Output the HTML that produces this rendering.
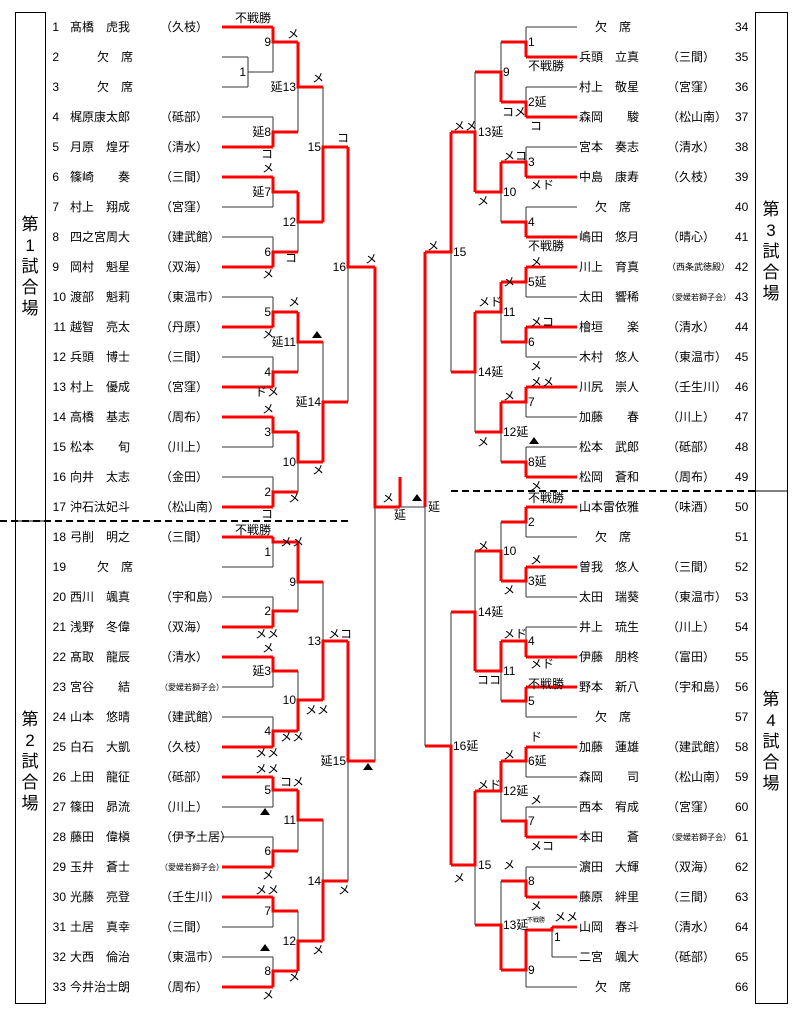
<!DOCTYPE html>
<html><head><meta charset="utf-8"><style>
html,body{margin:0;padding:0;background:#fff}
svg{display:block}
text{font-family:"Liberation Sans","Noto Sans CJK JP",sans-serif;font-size:12px;fill:#000}
.k{stroke:#333;stroke-width:1;fill:none}
.r{stroke:#ff0000;stroke-width:3;fill:none}
.s{font-size:8px}
.t{font-size:9px}
.b{font-size:17px}
.e{text-anchor:end}
</style></head><body>
<svg width="800" height="1014" viewBox="0 0 800 1014" xmlns="http://www.w3.org/2000/svg">
<!-- boxes -->
<rect x="15.5" y="12.5" width="30" height="991" fill="none" stroke="#000"/>
<line x1="15" y1="521" x2="46" y2="521" stroke="#000"/>
<rect x="755.5" y="12.5" width="32" height="991" fill="none" stroke="#000"/>
<line x1="755" y1="491" x2="788" y2="491" stroke="#000"/>
<g class="b" text-anchor="middle">
<text x="30" y="230" class="b">第</text><text x="30" y="251" class="b">1</text><text x="30" y="272" class="b">試</text><text x="30" y="293" class="b">合</text><text x="30" y="314" class="b">場</text>
<text x="30" y="725" class="b">第</text><text x="30" y="746" class="b">2</text><text x="30" y="767" class="b">試</text><text x="30" y="788" class="b">合</text><text x="30" y="809" class="b">場</text>
<text x="771" y="215" class="b">第</text><text x="771" y="236" class="b">3</text><text x="771" y="257" class="b">試</text><text x="771" y="278" class="b">合</text><text x="771" y="299" class="b">場</text>
<text x="771" y="705" class="b">第</text><text x="771" y="726" class="b">4</text><text x="771" y="747" class="b">試</text><text x="771" y="768" class="b">合</text><text x="771" y="789" class="b">場</text>
</g>
<!-- dashed -->
<line x1="0" y1="521" x2="348" y2="521" stroke="#000" stroke-width="2" stroke-dasharray="7,4"/>
<line x1="451" y1="491" x2="755" y2="491" stroke="#000" stroke-width="2" stroke-dasharray="7,4"/>

<!-- left player lines -->
<g class="k">
<path d="M222 57H248M222 87H248M222 117H273M222 177H273M222 207H273M222 237H273M222 297H273M222 357H273M222 417H273M222 447H273M222 477H273M222 567H273M222 597H273M222 687H273M222 717H273M222 807H273M222 837H273M222 927H273M222 957H273"/>
</g>
<g class="r">
<path d="M222 27H273M222 147H273M222 177H273M222 267H273M222 327H273M222 387H273M222 417H273M222 507H273M222 537H273M222 627H273M222 657H273M222 747H273M222 777H273M222 867H273M222 897H273M222 987H273"/>
</g>
<!-- left verticals (black) -->
<g class="k"><path d="
M248 57V87M248 72H273
M273 27V72M273 117V147M298 42V132M273 177V207M273 237V267M298 192V252M323 87V222
M273 297V327M273 357V387M298 312V372M273 417V447M273 477V507M298 432V492M323 342V462M348 147V402
M273 537V567M273 597V627M298 542V611M273 657V687M273 717V747M298 671V731M323 582V700
M273 777V807M273 837V867M298 790V851M273 897V927M273 957V987M298 911V971M323 820V941M348 641V881
M375 267V761M400 507H425M425 252V746"/></g>
<!-- left red paths -->
<g class="r"><path d="
M273 27V42H298M273 147V132H298M298 42V87H323M273 177V192H298M273 267V252H298M298 192V222H323M323 222V147H348
M273 327V312H298M273 387V372H298M298 312V342H323M273 417V432H298M273 507V492H298M298 432V462H323M323 462V402H348M348 147V267H375
M273 537V542H298M273 627V611H298M298 542V582H323M273 657V671H298M273 747V731H298M298 731V700H323M323 700V641H348
M273 777V790H298M273 867V851H298M298 790V820H323M273 897V911H298M273 987V971H298M298 971V941H323M323 941V881H348M348 641V761H375
M375 267V507H400M400 477V507M425 252V507"/></g>

<!-- right player lines -->
<g class="k"><path d="M577 27H526M577 87H526M577 147H526M577 207H526M577 297H526M577 357H526M577 417H526M577 447H526M577 537H526M577 597H526M577 627H526M577 717H526M577 777H526M577 807H526M577 867H526M577 957H552M577 987H526"/></g>
<g class="r"><path d="M577 57H526M577 117H526M577 177H526M577 237H526M577 267H526M577 327H526M577 387H526M577 477H526M577 507H526M577 567H526M577 657H526M577 687H526M577 747H526M577 837H526M577 897H526M577 927H552"/></g>
<g class="k"><path d="
M526 27V57M526 87V117M501 42V102M526 147V177M526 207V237M501 162V222M475 72V192
M526 267V297M526 327V357M501 282V342M526 387V417M526 447V477M501 402V462M475 312V432M451 132V372
M526 507V537M526 567V597M501 522V581M526 627V657M526 687V717M501 641V701M475 551V671
M526 747V777M526 807V837M501 761V821M526 867V897M552 927V957M526 930V987M501 881V970M475 791V925M451 612V865"/></g>
<g class="r"><path d="
M526 57V42H501M526 117V102H501M501 102V72H475M526 177V162H501M526 237V222H501M501 162V192H475M475 192V132H451
M526 267V282H501M526 327V342H501M501 282V312H475M526 387V402H501M526 477V462H501M501 402V432H475M475 312V372H451M451 132V252H425
M526 507V522H501M526 567V581H501M501 581V551H475M526 657V641H501M526 687V701H501M501 641V671H475M475 671V612H451
M526 747V761H501M526 837V821H501M501 761V791H475M526 897V881H501M552 927V930H526M526 930V970H501M501 970V925H475M475 791V865H451M451 865V746H425"/></g>

<!-- left names -->
<g>
<text x="59" y="31" class="e">1</text><text x="70" y="31">髙橋　虎我</text><text x="160" y="31">（久枝）</text>
<text x="59" y="61" class="e">2</text><text x="97" y="61">欠　席</text>
<text x="59" y="91" class="e">3</text><text x="97" y="91">欠　席</text>
<text x="59" y="121" class="e">4</text><text x="70" y="121">梶原康太郎</text><text x="160" y="121">（砥部）</text>
<text x="59" y="151" class="e">5</text><text x="70" y="151">月原　煌牙</text><text x="160" y="151">（清水）</text>
<text x="59" y="181" class="e">6</text><text x="70" y="181">篠崎　　奏</text><text x="160" y="181">（三間）</text>
<text x="59" y="211" class="e">7</text><text x="70" y="211">村上　翔成</text><text x="160" y="211">（宮窪）</text>
<text x="59" y="241" class="e">8</text><text x="70" y="241">四之宮周大</text><text x="160" y="241">（建武館）</text>
<text x="59" y="271" class="e">9</text><text x="70" y="271">岡村　魁星</text><text x="160" y="271">（双海）</text>
<text x="66" y="301" class="e">10</text><text x="70" y="301">渡部　魁莉</text><text x="160" y="301">（東温市）</text>
<text x="66" y="331" class="e">11</text><text x="70" y="331">越智　亮太</text><text x="160" y="331">（丹原）</text>
<text x="66" y="361" class="e">12</text><text x="70" y="361">兵頭　博士</text><text x="160" y="361">（三間）</text>
<text x="66" y="391" class="e">13</text><text x="70" y="391">村上　優成</text><text x="160" y="391">（宮窪）</text>
<text x="66" y="421" class="e">14</text><text x="70" y="421">高橋　基志</text><text x="160" y="421">（周布）</text>
<text x="66" y="451" class="e">15</text><text x="70" y="451">松本　　旬</text><text x="160" y="451">（川上）</text>
<text x="66" y="481" class="e">16</text><text x="70" y="481">向井　太志</text><text x="160" y="481">（金田）</text>
<text x="66" y="511" class="e">17</text><text x="70" y="511">沖石汰妃斗</text><text x="160" y="511">（松山南）</text>
<text x="66" y="541" class="e">18</text><text x="70" y="541">弓削　明之</text><text x="160" y="541">（三間）</text>
<text x="66" y="571" class="e">19</text><text x="97" y="571">欠　席</text>
<text x="66" y="601" class="e">20</text><text x="70" y="601">西川　颯真</text><text x="160" y="601">（宇和島）</text>
<text x="66" y="631" class="e">21</text><text x="70" y="631">浅野　冬偉</text><text x="160" y="631">（双海）</text>
<text x="66" y="661" class="e">22</text><text x="70" y="661">髙取　龍辰</text><text x="160" y="661">（清水）</text>
<text x="66" y="691" class="e">23</text><text x="70" y="691">宮谷　　結</text><text x="160" y="690" class="s">（愛媛若獅子会）</text>
<text x="66" y="721" class="e">24</text><text x="70" y="721">山本　悠晴</text><text x="160" y="721">（建武館）</text>
<text x="66" y="751" class="e">25</text><text x="70" y="751">白石　大凱</text><text x="160" y="751">（久枝）</text>
<text x="66" y="781" class="e">26</text><text x="70" y="781">上田　龍征</text><text x="160" y="781">（砥部）</text>
<text x="66" y="811" class="e">27</text><text x="70" y="811">篠田　昴流</text><text x="160" y="811">（川上）</text>
<text x="66" y="841" class="e">28</text><text x="70" y="841">藤田　偉槇</text><text x="160" y="841">（伊予土居）</text>
<text x="66" y="871" class="e">29</text><text x="70" y="871">玉井　蒼士</text><text x="160" y="870" class="s">（愛媛若獅子会）</text>
<text x="66" y="901" class="e">30</text><text x="70" y="901">光藤　亮登</text><text x="160" y="901">（壬生川）</text>
<text x="66" y="931" class="e">31</text><text x="70" y="931">土居　真幸</text><text x="160" y="931">（三間）</text>
<text x="66" y="961" class="e">32</text><text x="70" y="961">大西　倫治</text><text x="160" y="961">（東温市）</text>
<text x="66" y="991" class="e">33</text><text x="70" y="991">今井治士朗</text><text x="160" y="991">（周布）</text>
</g>
<!-- right names -->
<g>
<text x="595" y="31">欠　席</text><text x="735" y="31">34</text>
<text x="579" y="61">兵頭　立真</text><text x="667" y="61">（三間）</text><text x="735" y="61">35</text>
<text x="579" y="91">村上　敬星</text><text x="667" y="91">（宮窪）</text><text x="735" y="91">36</text>
<text x="579" y="121">森岡　　駿</text><text x="667" y="121">（松山南）</text><text x="735" y="121">37</text>
<text x="579" y="151">宮本　奏志</text><text x="667" y="151">（清水）</text><text x="735" y="151">38</text>
<text x="579" y="181">中島　康寿</text><text x="667" y="181">（久枝）</text><text x="735" y="181">39</text>
<text x="595" y="211">欠　席</text><text x="735" y="211">40</text>
<text x="579" y="241">嶋田　悠月</text><text x="667" y="241">（晴心）</text><text x="735" y="241">41</text>
<text x="579" y="271">川上　育真</text><text x="667" y="270" class="t">（西条武徳殿）</text><text x="735" y="271">42</text>
<text x="579" y="301">太田　響稀</text><text x="667" y="300" class="s">（愛媛若獅子会）</text><text x="735" y="301">43</text>
<text x="579" y="331">檜垣　　楽</text><text x="667" y="331">（清水）</text><text x="735" y="331">44</text>
<text x="579" y="361">木村　悠人</text><text x="667" y="361">（東温市）</text><text x="735" y="361">45</text>
<text x="579" y="391">川尻　崇人</text><text x="667" y="391">（壬生川）</text><text x="735" y="391">46</text>
<text x="579" y="421">加藤　　春</text><text x="667" y="421">（川上）</text><text x="735" y="421">47</text>
<text x="579" y="451">松本　武郎</text><text x="667" y="451">（砥部）</text><text x="735" y="451">48</text>
<text x="579" y="481">松岡　蒼和</text><text x="667" y="481">（周布）</text><text x="735" y="481">49</text>
<text x="579" y="511">山本雷依雅</text><text x="667" y="511">（味酒）</text><text x="735" y="511">50</text>
<text x="595" y="541">欠　席</text><text x="735" y="541">51</text>
<text x="579" y="571">曽我　悠人</text><text x="667" y="571">（三間）</text><text x="735" y="571">52</text>
<text x="579" y="601">太田　瑞葵</text><text x="667" y="601">（東温市）</text><text x="735" y="601">53</text>
<text x="579" y="631">井上　琉生</text><text x="667" y="631">（川上）</text><text x="735" y="631">54</text>
<text x="579" y="661">伊藤　朋柊</text><text x="667" y="661">（富田）</text><text x="735" y="661">55</text>
<text x="579" y="691">野本　新八</text><text x="667" y="691">（宇和島）</text><text x="735" y="691">56</text>
<text x="595" y="721">欠　席</text><text x="735" y="721">57</text>
<text x="579" y="751">加藤　蓮雄</text><text x="667" y="751">（建武館）</text><text x="735" y="751">58</text>
<text x="579" y="781">森岡　　司</text><text x="667" y="781">（松山南）</text><text x="735" y="781">59</text>
<text x="579" y="811">西本　宥成</text><text x="667" y="811">（宮窪）</text><text x="735" y="811">60</text>
<text x="579" y="841">本田　　蒼</text><text x="667" y="840" class="s">（愛媛若獅子会）</text><text x="735" y="841">61</text>
<text x="579" y="871">濵田　大輝</text><text x="667" y="871">（双海）</text><text x="735" y="871">62</text>
<text x="579" y="901">藤原　絆里</text><text x="667" y="901">（三間）</text><text x="735" y="901">63</text>
<text x="579" y="931">山岡　春斗</text><text x="667" y="931">（清水）</text><text x="735" y="931">64</text>
<text x="579" y="961">二宮　颯大</text><text x="667" y="961">（砥部）</text><text x="735" y="961">65</text>
<text x="595" y="991">欠　席</text><text x="735" y="991">66</text>
</g>

<!-- left match labels -->
<g class="e">
<text x="271" y="46" class="e">9</text><text x="246" y="76" class="e">1</text><text x="296" y="91" class="e">延13</text>
<text x="271" y="136" class="e">延8</text><text x="321" y="151" class="e">15</text><text x="271" y="196" class="e">延7</text>
<text x="296" y="226" class="e">12</text><text x="271" y="256" class="e">6</text><text x="346" y="271" class="e">16</text>
<text x="271" y="316" class="e">5</text><text x="296" y="346" class="e">延11</text><text x="271" y="376" class="e">4</text>
<text x="321" y="406" class="e">延14</text><text x="271" y="436" class="e">3</text><text x="296" y="466" class="e">10</text>
<text x="271" y="496" class="e">2</text>
<text x="271" y="556" class="e">1</text><text x="296" y="586" class="e">9</text><text x="271" y="615" class="e">2</text>
<text x="321" y="645" class="e">13</text><text x="271" y="675" class="e">延3</text><text x="296" y="704" class="e">10</text>
<text x="271" y="735" class="e">4</text><text x="346" y="765" class="e">延15</text><text x="271" y="794" class="e">5</text>
<text x="296" y="824" class="e">11</text><text x="271" y="855" class="e">6</text><text x="321" y="885" class="e">14</text>
<text x="271" y="915" class="e">7</text><text x="296" y="945" class="e">12</text><text x="271" y="975" class="e">8</text>
</g>
<!-- right match labels -->
<g>
<text x="528" y="46">1</text><text x="503" y="76">9</text><text x="528" y="106">2延</text><text x="478" y="136">13延</text>
<text x="528" y="166">3</text><text x="503" y="196">10</text><text x="528" y="226">4</text><text x="453" y="256">15</text>
<text x="528" y="286">5延</text><text x="503" y="316">11</text><text x="528" y="346">6</text><text x="478" y="376">14延</text>
<text x="528" y="406">7</text><text x="503" y="436">12延</text><text x="528" y="466">8延</text>
<text x="528" y="526">2</text><text x="503" y="555">10</text><text x="528" y="585">3延</text><text x="478" y="616">14延</text>
<text x="528" y="645">4</text><text x="503" y="675">11</text><text x="528" y="705">5</text><text x="453" y="750">16延</text>
<text x="528" y="765">6延</text><text x="503" y="795">12延</text><text x="528" y="825">7</text><text x="478" y="869">15</text>
<text x="528" y="885">8</text><text x="503" y="929">13延</text><text x="554" y="941">1</text><text x="528" y="974">9</text>
</g>
<!-- annotations -->
<g>
<text x="235" y="22">不戦勝</text><text x="287" y="38">メ</text><text x="312" y="82">メ</text>
<text x="261" y="158">コ</text><text x="262" y="172">メ</text><text x="337" y="142">コ</text>
<text x="285" y="262">コ</text><text x="262" y="278">メ</text><text x="365" y="263">メ</text>
<text x="288" y="306">メ</text><text x="262" y="338">メ</text><text x="255" y="396">ドメ</text>
<text x="262" y="413">メ</text><text x="312" y="474">メ</text><text x="288" y="502">メ</text><text x="261" y="518">コ</text>
<text x="382" y="502">メ</text><text x="394" y="519">延</text><text x="428" y="511">延</text>
<text x="235" y="534">不戦勝</text><text x="280" y="546">メメ</text><text x="255" y="638">メメ</text>
<text x="262" y="652">メ</text><text x="305" y="714">メメ</text><text x="280" y="741">メメ</text>
<text x="255" y="757">メメ</text><text x="255" y="773">メメ</text><text x="328" y="638">メコ</text>
<text x="280" y="786">コメ</text><text x="262" y="879">メ</text><text x="338" y="894">メ</text>
<text x="255" y="894">メメ</text><text x="312" y="954">メ</text><text x="288" y="981">メ</text><text x="262" y="999">メ</text>
<text x="528" y="70">不戦勝</text><text x="502" y="116">コメ</text><text x="530" y="130">コ</text>
<text x="453" y="130">メメ</text><text x="503" y="160">メコ</text><text x="530" y="189">メド</text>
<text x="477" y="205">メ</text><text x="528" y="250">不戦勝</text><text x="427" y="250">メ</text>
<text x="530" y="266">メ</text><text x="478" y="306">メド</text><text x="503" y="286">メ</text><text x="530" y="326">メコ</text>
<text x="530" y="370">メ</text><text x="530" y="386">メメ</text><text x="503" y="400">メ</text>
<text x="477" y="446">メ</text><text x="530" y="490">メ</text>
<text x="528" y="502">不戦勝</text><text x="477" y="550">メ</text><text x="530" y="564">メ</text>
<text x="503" y="594">メ</text><text x="503" y="638">メド</text><text x="477" y="684">ココ</text>
<text x="530" y="668">メド</text><text x="528" y="688">不戦勝</text><text x="530" y="741">ド</text>
<text x="503" y="759">メ</text><text x="477" y="789">メド</text><text x="530" y="804">メ</text>
<text x="530" y="850">メコ</text><text x="503" y="869">メ</text><text x="453" y="882">メ</text>
<text x="530" y="910">メ</text><text x="554" y="921">メメ</text><text x="527" y="922" class="s" style="font-size:6px">不戦勝</text>
</g>
<!-- triangles -->
<g fill="#000">
<path d="M312 338l5 -7l5 7z"/><path d="M412 501l5 -7l5 7z"/><path d="M363 770l5 -7l5 7z"/>
<path d="M260 815l5 -7l5 7z"/><path d="M260 951l5 -7l5 7z"/><path d="M529 444l5 -7l5 7z"/>
</g>
</svg>
</body></html>
